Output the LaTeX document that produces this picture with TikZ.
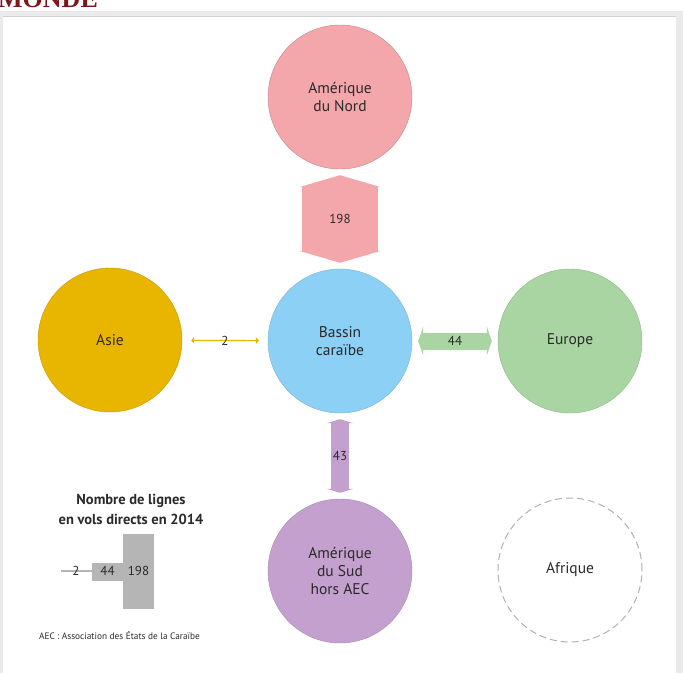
\documentclass[tikz,border=0pt]{standalone}
\usepackage{fontspec}
\setmainfont{PT Sans}
\newfontfamily\logofont{Liberation Serif}
\usetikzlibrary{arrows.meta}

\definecolor{nordpink}{HTML}{F3A7AB}
\definecolor{bassinblue}{HTML}{8DD0F5}
\definecolor{asieyellow}{HTML}{E8B500}
\definecolor{europegreen}{HTML}{A8D5A1}
\definecolor{sudpurple}{HTML}{C4A0CE}
\definecolor{txtgray}{HTML}{2A2A2A}
\definecolor{leggray}{HTML}{B5B5B5}
\definecolor{framegray}{HTML}{EAEAEA}
\definecolor{logored}{HTML}{7E1518}

\begin{document}
\begin{tikzpicture}[x=1pt, y=-1pt,
    region/.style={circle, minimum size=144pt, inner sep=0pt, align=center,
        font=\fontsize{15.5}{18}\selectfont, text=txtgray},
    count/.style={font=\fontsize{13}{15}\selectfont, text=txtgray},
    fat/.style n args={3}{line width=#1pt, shorten <=6pt, shorten >=6pt,
        {Triangle[length=#3pt, width=#2pt, line width=0pt]}-{Triangle[length=#3pt, width=#2pt, line width=0pt]}},
]
    \useasboundingbox (0,0) rectangle (683,673);

    % frame and logo
    \fill[framegray] (0,11) rectangle (683,673);
    \fill[white] (3,17) rectangle (676,673);
    \draw[black!18] (3,16.5) -- (676,16.5);
    \begin{scope}
        \clip (0,0) rectangle (683,9);
        \node[anchor=base west, inner sep=0pt, text=logored,
            font=\logofont\bfseries\fontsize{26}{26}\selectfont] (logo) at (-2, 7) {MONDE};
    \end{scope}

    % regions
    \node[region, fill=nordpink, draw=nordpink!80!black] (nord) at (340, 97) {Amérique\\du Nord};
    \node[region, fill=bassinblue, draw=bassinblue!85!black] (bassin) at (340, 341) {Bassin\\caraïbe};
    \node[region, fill=asieyellow, draw=asieyellow!85!black] (asie) at (110, 340) {Asie};
    \node[region, fill=europegreen, draw=europegreen!85!black] (europe) at (570, 341) {Europe};
    \node[region, fill=sudpurple, draw=sudpurple!85!black] (sud) at (340, 571) {Amérique\\du Sud\\hors AEC};
    \node[region, draw=black!30, dashed, dash pattern=on 7pt off 4pt, line width=1pt] (afrique) at (570, 570) {Afrique};

    % links
    \draw[nordpink, fat={76}{82}{12}] (nord) -- (bassin) node[midway, count] (n198) {198};
    \draw[europegreen, fat={17}{29}{5}] (bassin) -- (europe) node[midway, count] (n44) {44};
    \draw[sudpurple, fat={18}{27}{4}] (bassin) -- (sud) node[midway, count] (n43) {43};
    \draw[asieyellow, line width=1.2pt, shorten <=9pt, shorten >=9pt,
        {Triangle[length=3pt, width=7pt]}-{Triangle[length=3pt, width=7pt]}]
        (asie) -- (bassin) node[midway, count] (n2) {2};

    % legend
    \node[font=\bfseries\fontsize{14.5}{20}\selectfont, align=center, text=txtgray] (legtitle) at (131, 509)
        {Nombre de lignes\\en vols directs en 2014};
    \coordinate (l0) at (61, 571);
    \coordinate (l1) at (92, 571);
    \draw[leggray, line width=1.2pt] (l0) -- (l1);
    \fill[leggray] (92,563) rectangle (123,581);
    \fill[leggray] (123,534) rectangle (154,609);
    \node[count] (leg2) at (76, 571) {2};
    \node[count] (leg44) at (107.5, 571) {44};
    \node[count] (leg198) at (138.5, 571) {198};
    \node[anchor=west, inner sep=0pt, font=\fontsize{9.3}{10}\selectfont, text=txtgray] (note) at (39, 635)
        {AEC : Association des États de la Caraïbe};
\end{tikzpicture}
\end{document}
